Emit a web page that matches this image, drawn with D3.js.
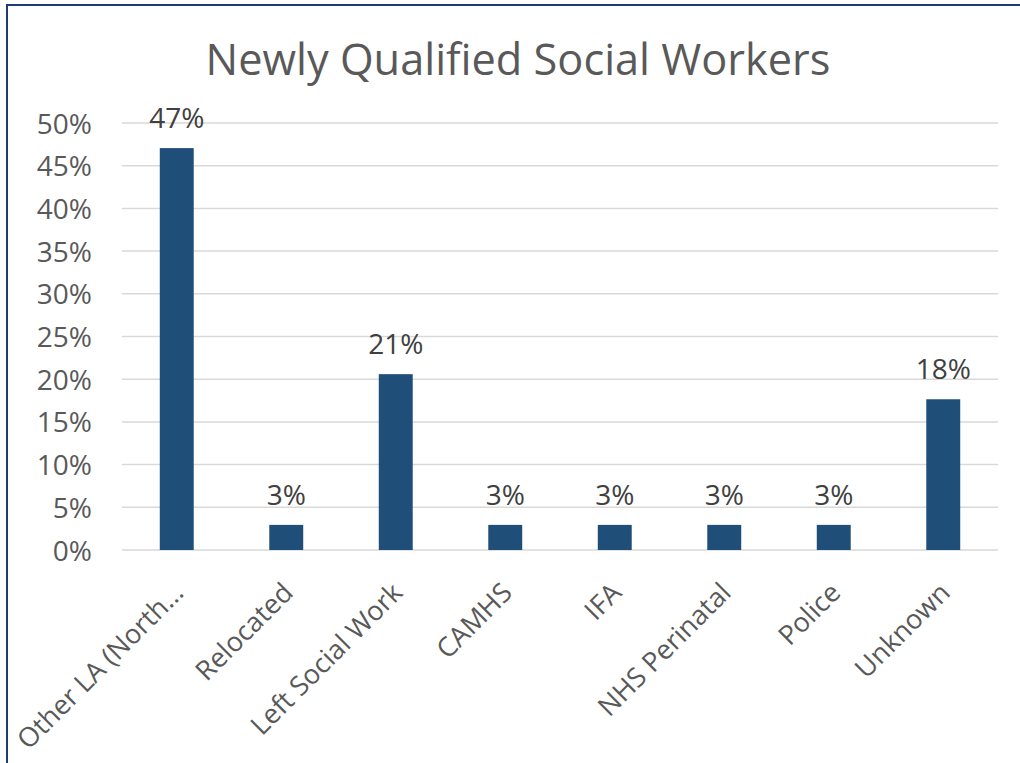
<!DOCTYPE html>
<html>
<head>
<meta charset="utf-8">
<script src="https://cdn.jsdelivr.net/npm/d3@7"></script>
<style>
  body { margin: 0; background: #fff; }
  text { font-family: "Open Sans", sans-serif; }
</style>
</head>
<body>
<svg id="chart" width="1020" height="763"></svg>
<script>
// chart data
const categories = ["Other LA (North\u2026", "Relocated", "Left Social Work", "CAMHS", "IFA", "NHS Perinatal", "Police", "Unknown"];
const values = [0.4706, 0.0294, 0.2059, 0.0294, 0.0294, 0.0294, 0.0294, 0.1765];
const yTicks = [0, 0.05, 0.10, 0.15, 0.20, 0.25, 0.30, 0.35, 0.40, 0.45, 0.50];

const svg = d3.select("#chart");

// chart border
svg.append("rect")
  .attr("x", 7).attr("y", 5)
  .attr("width", 1030).attr("height", 780)
  .attr("fill", "none")
  .attr("stroke", "#1f3b73")
  .attr("stroke-width", 2);

// title
svg.append("text")
  .attr("x", 518).attr("y", 75)
  .attr("text-anchor", "middle")
  .attr("font-size", 43.3)
  .attr("fill", "#595959")
  .text("Newly Qualified Social Workers");

const plotLeft = 122, plotRight = 998, plotTop = 123, plotBottom = 550;

let x = d3.scaleBand().domain(categories).range([plotLeft, plotRight]).paddingInner(0.69).paddingOuter(0.345);
let y = d3.scaleLinear().domain([0, 0.5]).range([plotBottom, plotTop]);

// gridlines
svg.append("g")
  .selectAll("line")
  .data(yTicks)
  .join("line")
  .attr("x1", plotLeft).attr("x2", plotRight)
  .attr("y1", d => y(d)).attr("y2", d => y(d))
  .attr("stroke", "#d9d9d9")
  .attr("stroke-width", 1.5);

// y axis labels
let yAxis = d3.axisLeft(y).tickValues(yTicks).tickFormat(d3.format(".0%")).tickSize(0).tickPadding(30);
let yG = svg.append("g").attr("transform", "translate(" + plotLeft + ",0)").call(yAxis);
yG.select(".domain").remove();
yG.selectAll("text")
  .attr("font-size", 28)
  .attr("fill", "#595959")
  .attr("dy", "0.36em")
  .style("font-family", "'Open Sans', sans-serif");

// bars
svg.append("g")
  .selectAll("rect")
  .data(values)
  .join("rect")
  .attr("x", (d, i) => x(categories[i]))
  .attr("width", x.bandwidth())
  .attr("y", d => y(d))
  .attr("height", d => plotBottom - y(d))
  .attr("fill", "#1f4e79");

// data labels
svg.append("g")
  .selectAll("text")
  .data(values)
  .join("text")
  .attr("x", (d, i) => x(categories[i]) + x.bandwidth() / 2)
  .attr("y", d => y(d) - 20)
  .attr("text-anchor", "middle")
  .attr("font-size", 28)
  .attr("fill", "#404040")
  .text(d => d3.format(".0%")(d));

// category labels, rotated
svg.append("g")
  .selectAll("text")
  .data(categories)
  .join("text")
  .attr("transform", d => "translate(" + (x(d) + x.bandwidth() / 2 - 5) + "," + 581 + ") rotate(-45)")
  .attr("text-anchor", "end")
  .attr("dy", "0.7em")
  .attr("font-size", 27)
  .attr("fill", "#595959")
  .text(d => d);
</script>
</body>
</html>
